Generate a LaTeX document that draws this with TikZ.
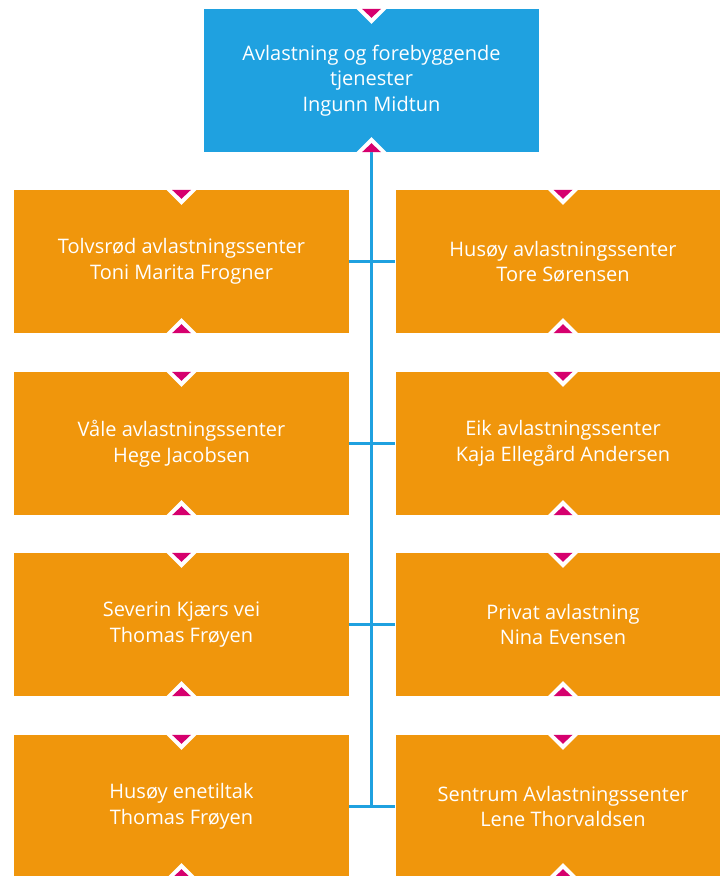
\documentclass[tikz,border=0pt]{standalone}
\usepackage{fontspec}
\setmainfont{Open Sans}
\usetikzlibrary{positioning}
\definecolor{leaderblue}{RGB}{31,161,224}
\definecolor{unitorange}{RGB}{240,150,12}
\definecolor{markpink}{RGB}{214,0,110}

\begin{document}
\begin{tikzpicture}[x=1pt, y=-1pt,
		unitbox/.style={fill=unitorange, text=white, minimum width=335pt, minimum height=143pt,
			inner sep=0pt, align=center, font=\fontsize{20}{25.5}\selectfont},
		leaderbox/.style={unitbox, fill=leaderblue},
		link/.style={leaderblue, line width=3pt}]
				% Рамка рисунка
				\useasboundingbox (0,0) rectangle (720,876);
				
				% Руководитель
				\node[leaderbox] (leader) at (371.5,80.5) {Avlastning og forebyggende\\tjenester\\Ingunn Midtun};
				
				% Левая колонка
				\node[unitbox] (tolvsrod) at (181.5,261.5) {Tolvsrød avlastningssenter\\Toni Marita Frogner};
				\node[unitbox] (vale) at (181.5,443.5) {Våle avlastningssenter\\Hege Jacobsen};
				\node[unitbox] (severin) at (181.5,624.5) {Severin Kjærs vei\\Thomas Frøyen};
				\node[unitbox] (enetiltak) at (181.5,806.5) {Husøy enetiltak\\Thomas Frøyen};
				
				% Правая колонка
				\node[unitbox] (husoy) at (563,261.5) {Husøy avlastningssenter\\Tore Sørensen};
				\node[unitbox] (eik) at (563,443.5) {Eik avlastningssenter\\Kaja Ellegård Andersen};
				\node[unitbox] (privat) at (563,624.5) {Privat avlastning\\Nina Evensen};
				\node[unitbox] (sentrum) at (563,806.5) {Sentrum Avlastningssenter\\Lene Thorvaldsen};
				
				% Линии связи
				\draw[link] (leader.south) -- (leader.south |- sentrum.west);
				\draw[link] (tolvsrod.east) -- (husoy.west);
				\draw[link] (vale.east) -- (eik.west);
				\draw[link] (severin.east) -- (privat.west);
				\draw[link] (enetiltak.east) -- (sentrum.west);
				
				% Треугольные метки сверху и снизу
				\foreach \n in {leader,tolvsrod,vale,severin,enetiltak,husoy,eik,privat,sentrum}{
					\fill[white] (\n.north) ++(-15,0) -- ++(30,0) -- ++(-15,15) -- cycle;
					\fill[markpink] (\n.north) ++(-9.5,0) -- ++(19,0) -- ++(-9.5,9) -- cycle;
					\fill[white] (\n.south) ++(-15,0) -- ++(30,0) -- ++(-15,-15) -- cycle;
					\fill[markpink] (\n.south) ++(-9.5,0) -- ++(19,0) -- ++(-9.5,-9) -- cycle;
				}
			\end{tikzpicture}
\end{document}
